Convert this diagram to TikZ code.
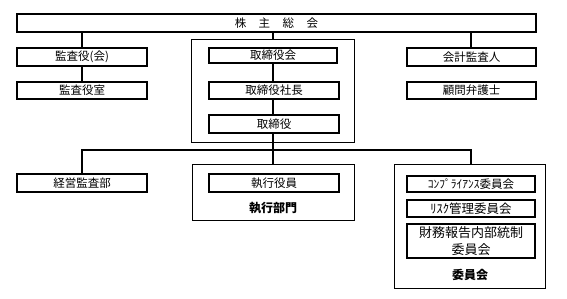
\documentclass[tikz,border=0pt]{standalone}
\usepackage{fontspec}
\newfontfamily\cjk{Noto Sans CJK JP}
\begin{document}
\begin{tikzpicture}[x=1pt,y=-1pt,
  box/.style={draw,line width=2.4pt,inner sep=0pt,minimum width=130pt,minimum height=18pt,font=\cjk\fontsize{11.5}{13}\selectfont},
  thinbox/.style={box,line width=1.6pt},
  frame/.style={draw,line width=0.8pt,inner sep=0pt},
  lab/.style={font=\cjk\bfseries\fontsize{12}{13}\selectfont,inner sep=0pt},
  conn/.style={line width=2pt}]
\useasboundingbox (0,0) rectangle (567,298);
% frames
\node[frame,minimum width=163pt,minimum height=103pt] (board) at (272.5,90.5) {};
\node[frame,minimum width=162pt,minimum height=56pt] (exec) at (273,192) {};
\node[frame,minimum width=151pt,minimum height=124pt] (comm) at (469.5,226) {};
% boxes
\node[thinbox,minimum width=519pt] (top) at (276.5,23) {株\hspace{12.5pt}主\hspace{12.5pt}総\hspace{12.5pt}会};
\node[box] (kansa) at (82,57) {監査役(会)};
\node[box,minimum height=17pt] (kansashitsu) at (82,90.5) {監査役室};
\node[thinbox,minimum width=128pt,minimum height=15pt] (torikai) at (273,55.5) {取締役会};
\node[box,minimum height=17pt] (shacho) at (274,90.5) {取締役社長};
\node[box] (tori) at (274,124) {取締役};
\node[box,minimum width=129pt] (kaikei) at (471.5,57) {会計監査人};
\node[box,minimum width=129pt,minimum height=17pt] (komon) at (471.5,90.5) {顧問弁護士};
\node[box] (keiei) at (82,183) {経営監査部};
\node[box] (shikko) at (274,183) {執行役員};
\node[lab] (execlab) at (273,208) {執行部門};
\node[box,minimum width=128pt,minimum height=16pt] (comp) at (471,184) {ｺﾝﾌﾟﾗｲｱﾝｽ委員会};
\node[box,minimum width=128pt,minimum height=17pt,font=\cjk\fontsize{12.5}{14}\selectfont] (risk) at (471,208.5) {ﾘｽｸ管理委員会};
\node[box,minimum width=128pt,minimum height=34pt,align=center,font=\cjk\fontsize{13}{16.5}\selectfont] (zaimu) at (471,241) {財務報告内部統制\\委員会};
\node[lab] (commlab) at (470,275) {委員会};
% connectors
\coordinate (busL) at (82,150);
\coordinate (busR) at (471,150);
\draw[conn] (top.south -| kansa.north) -- (kansa.north);
\draw[conn] (kansa.south) -- (kansashitsu.north);
\draw[conn] (top.south -| board.north) -- (board.north);
\draw[conn] (torikai.south) -- (torikai.south |- shacho.north);
\draw[conn] (torikai.south |- shacho.south) -- (torikai.south |- tori.north);
\draw[conn] (torikai.south |- tori.south) -- (torikai.south |- busL);
\draw[conn] (top.south -| busR) -- (busR |- kaikei.north);
\draw[conn] (keiei.north) -- (busL) -- (busR) -- (busR |- comm.north);
\draw[conn] (torikai.south |- busL) -- (exec.north);
\end{tikzpicture}
\end{document}
